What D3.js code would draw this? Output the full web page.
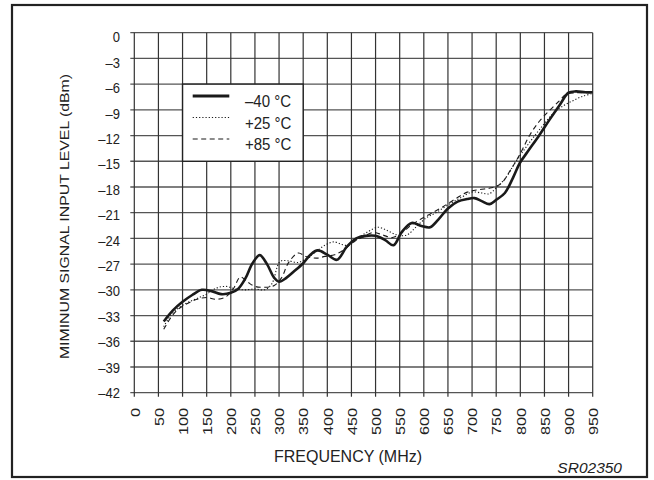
<!DOCTYPE html>
<html><head><meta charset="utf-8">
<script src="https://cdn.jsdelivr.net/npm/d3@7"></script>
<style>body{margin:0;background:#fff}svg{display:block}text{font-family:"Liberation Sans",Arial,Helvetica,sans-serif;fill:#222}</style>
</head><body>
<script>
const xTickValues = [0,50,100,150,200,250,300,350,400,450,500,550,600,650,700,750,800,850,900,950];
const yTickValues = [0,-3,-6,-9,-12,-15,-18,-21,-24,-27,-30,-33,-36,-39,-42];
const yTickLabels = ["0","–3","–6","–9","–12","–15","–18","–21","–24","–27","–30","–33","–36","–39","–42"];
const seriesNames = ["–40 °C","+25 °C","+85 °C"];

const freqM40 = [61,80,100,120,140,160,180,200,215,230,245,260,275,290,300,315,330,350,365,380,400,420,440,460,480,500,520,537,555,575,595,613,630,650,670,690,705,720,736,750,768,785,799,815,840,860,882,900,915,935,950];
const valM40  = [-33.7,-32.4,-31.4,-30.6,-30.0,-30.15,-30.5,-30.35,-29.9,-28.7,-26.9,-25.95,-27.0,-28.6,-29.05,-28.6,-27.9,-26.9,-25.9,-25.4,-25.9,-26.5,-25.0,-24.0,-23.7,-23.7,-24.2,-24.8,-23.2,-22.2,-22.55,-22.7,-21.8,-20.5,-19.7,-19.4,-19.3,-19.65,-20.0,-19.5,-18.7,-16.9,-15.2,-13.9,-11.9,-10.2,-8.4,-7.0,-6.85,-6.95,-6.95];

const freqP25 = [61,75,90,110,130,150,170,190,210,230,250,270,285,302,318,340,358,375,395,413,430,445,465,485,505,525,545,565,585,605,625,650,675,700,720,735,750,770,790,810,830,850,870,890,910,930,950];
const valP25  = [-34.3,-33.0,-32.2,-31.5,-31.0,-30.5,-29.8,-29.6,-29.9,-30.0,-29.9,-30.0,-29.3,-26.7,-26.6,-26.8,-26.3,-25.6,-24.8,-24.4,-24.7,-24.8,-23.9,-23.2,-22.7,-23.1,-23.6,-23.6,-22.6,-21.6,-21.0,-20.1,-19.3,-18.6,-18.7,-18.8,-18.1,-16.9,-15.1,-13.5,-12.0,-10.6,-9.3,-8.5,-7.9,-7.4,-7.1];

const freqP85 = [61,75,90,110,130,150,170,190,205,220,235,250,270,290,305,320,340,355,378,395,415,435,455,475,495,515,535,555,575,595,615,640,665,690,715,740,760,780,800,820,840,860,880,895,915,935,950];
const valP85  = [-34.6,-33.3,-32.3,-31.6,-31.1,-30.9,-31.1,-30.8,-29.9,-28.5,-29.1,-29.6,-29.7,-29.5,-28.6,-26.8,-25.7,-26.1,-26.3,-26.1,-25.9,-25.3,-24.4,-23.8,-23.3,-23.6,-23.9,-23.3,-22.4,-21.7,-21.1,-20.3,-19.4,-18.6,-18.3,-18.1,-17.6,-16.0,-14.1,-11.9,-10.3,-9.1,-8.0,-7.2,-7.0,-7.0,-7.0];

const W = 654, H = 480;
const svg = d3.select("body").append("svg").attr("width", W).attr("height", H);

// outer frame
svg.append("rect").attr("x", 12).attr("y", 5).attr("width", 635).attr("height", 472)
  .attr("fill", "none").attr("stroke", "#222").attr("stroke-width", 2.2);

const x = d3.scaleLinear().domain([0, 950]).range([134.3, 592.7]);
const y = d3.scaleLinear().domain([-42, 0]).range([392.7, 32.7]);

const grid = svg.append("g");
grid.selectAll("line.h").data(yTickValues).join("line").attr("class","h")
  .attr("x1", x(0) - 4).attr("x2", x(950)).attr("y1", d => y(d)).attr("y2", d => y(d))
  .attr("stroke", "#555").attr("stroke-width", 1.3);
grid.selectAll("line.v").data(xTickValues).join("line").attr("class","v")
  .attr("y1", y(0)).attr("y2", y(-42) + 4).attr("x1", d => x(d)).attr("x2", d => x(d))
  .attr("stroke", "#333").attr("stroke-width", 1.2);

// y tick labels
svg.append("g").selectAll("text").data(yTickValues).join("text")
  .attr("transform", d => `translate(120,${y(d) + 5 + d / 42 * 4.4}) scale(1,1.1)`)
  .attr("text-anchor", "end").attr("dominant-baseline", "central")
  .style("font-size", "13px")
  .text((d, i) => yTickLabels[i]);

// x tick labels (rotated)
svg.append("g").selectAll("text").data(xTickValues).join("text")
  .attr("transform", d => `translate(${x(d) + 0.8},408) scale(1,1.25) rotate(-90)`)
  .attr("text-anchor", "end").attr("dominant-baseline", "central")
  .style("font-size", "13px")
  .text(d => d);

// axis titles
svg.append("text").attr("transform", "translate(348,462) scale(1,1.05)").attr("text-anchor", "middle")
  .style("font-size", "16px").text("FREQUENCY (MHz)");
svg.append("text").attr("transform", "translate(69,216.5) scale(1,1.2) rotate(-90)").attr("text-anchor", "middle")
  .style("font-size", "13.2px").text("MIMINUM SIGNAL INPUT LEVEL (dBm)");
svg.append("text").attr("x", 622).attr("y", 473).attr("text-anchor", "end")
  .style("font-size", "15.5px").style("font-style", "italic").text("SR02350");

// curves
const line = d3.line().x(d => x(d[0])).y(d => y(d[1])).curve(d3.curveCatmullRom.alpha(0.5));
const series = [
  {f: freqP85, v: valP85, w: 1.1, dash: "5,3.5"},
  {f: freqP25, v: valP25, w: 1.1, dash: "1.2,2"},
  {f: freqM40, v: valM40, w: 2.6, dash: null}
];
svg.append("g").selectAll("path").data(series).join("path")
  .attr("d", s => line(s.f.map((f, i) => [f, s.v[i]])))
  .attr("fill", "none").attr("stroke", "#1a1a1a")
  .attr("stroke-width", s => s.w)
  .attr("stroke-dasharray", s => s.dash)
  .attr("stroke-linejoin", "round");

// legend
const lg = svg.append("g");
lg.append("rect").attr("x", x(100)).attr("y", y(-6)).attr("width", x(350) - x(100)).attr("height", y(-15) - y(-6))
  .attr("fill", "#fff").attr("stroke", "#222").attr("stroke-width", 1.4);
const legendItems = [
  {name: seriesNames[0], w: 2.8, dash: null},
  {name: seriesNames[1], w: 1.1, dash: "1.2,2"},
  {name: seriesNames[2], w: 1.1, dash: "5,3.5"}
];
legendItems.forEach((it, i) => {
  const ly = 96 + i * 21.5;
  lg.append("line").attr("x1", 192.7).attr("x2", 229.3).attr("y1", ly).attr("y2", ly)
    .attr("stroke", "#1a1a1a").attr("stroke-width", it.w).attr("stroke-dasharray", it.dash);
  lg.append("text").attr("transform", `translate(245,${ly + 11.3}) scale(1,1.08)`)
    .style("font-size", "15px").text(it.name);
});
</script>
</body></html>
